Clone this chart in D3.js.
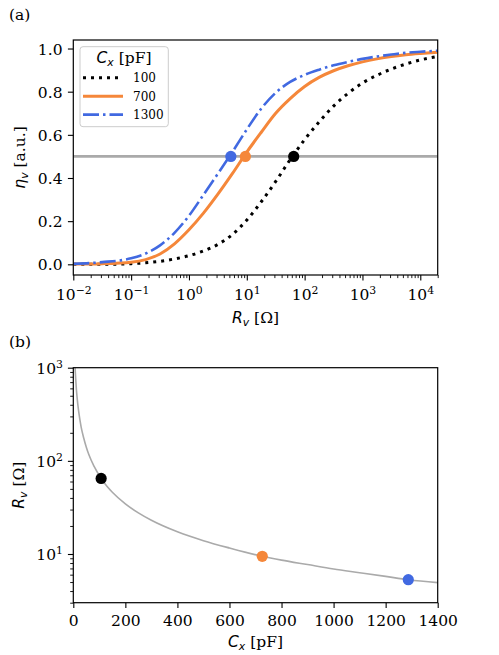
<!DOCTYPE html>
<html><head><meta charset="utf-8">
<script src="https://cdn.jsdelivr.net/npm/d3@7"></script>
<style>body{margin:0;background:#fff}</style>
</head><body><svg id="c" width="499" height="655"></svg>
<script>
// ---------- data ----------
const rvGrid = [0.01, 0.0316, 0.1, 0.178, 0.316, 0.562, 1, 1.78, 3.16, 5.62, 10, 17.8, 31.6, 56.2, 100, 178, 316, 562, 1000, 1778, 3162, 5623, 10000, 20000];
const eta100  = [0.000, 0.000, 0.003, 0.007, 0.014, 0.025, 0.040, 0.062, 0.092, 0.138, 0.205, 0.29, 0.384, 0.485, 0.578, 0.660, 0.733, 0.792, 0.840, 0.876, 0.905, 0.928, 0.947, 0.963];
const eta700  = [0.001, 0.003, 0.010, 0.022, 0.048, 0.095, 0.160, 0.237, 0.325, 0.420, 0.520, 0.612, 0.700, 0.768, 0.824, 0.866, 0.897, 0.920, 0.938, 0.952, 0.963, 0.971, 0.977, 0.983];
const eta1300 = [0.002, 0.010, 0.028, 0.050, 0.088, 0.146, 0.225, 0.322, 0.420, 0.520, 0.625, 0.722, 0.795, 0.845, 0.878, 0.902, 0.922, 0.938, 0.952, 0.963, 0.972, 0.980, 0.985, 0.990];
const capLabels = ["100", "700", "1300"];
const cxMeasured = [107, 726, 1287];
const rvHalf = [64.7, 9.45, 5.3];
const etaHalf = 0.5;
const cxCurve = [6, 7, 8, 10, 12, 15, 20, 25, 30, 40, 50, 60, 80, 107, 130, 150, 200, 250, 300, 400, 500, 600, 726, 800, 900, 1000, 1100, 1200, 1287, 1400];
const rvCurve = [1150, 990, 870, 700, 580, 465, 350, 280, 232, 176, 140, 116, 87, 64.7, 53, 46, 34.5, 27.6, 23, 17.3, 13.9, 11.6, 9.45, 8.6, 7.7, 6.9, 6.3, 5.75, 5.3, 4.93];
const xTickExpA = [-2, -1, 0, 1, 2, 3, 4];
const yTicksA = [0, 0.2, 0.4, 0.6, 0.8, 1.0];
const xTicksB = [0, 200, 400, 600, 800, 1000, 1200, 1400];
const yTickExpB = [1, 2, 3];

// ---------- styles ----------
const colors = ["#000000", "#f5873a", "#4169e1"];
const dashes = ["3,5", null, "16,4,2.5,4"];
const widths = [3, 3, 2.6];
const serif = "DejaVu Serif";
const sans = "DejaVu Sans";
const FS = 15.5;

const svg = d3.select("#c");
const A = {l: 73.3, r: 437.7, t: 40, b: 275};
const B = {l: 73.3, r: 437.7, t: 367.7, b: 602.7};

const xA = d3.scaleLog().domain([1e-2, 2e4]).range([A.l, A.r]);
const yA = d3.scaleLinear().domain([-0.0495, 1.0395]).range([A.b, A.t]);
const xB = d3.scaleLinear().domain([0, 1400]).range([B.l, B.r]);
const yB = d3.scaleLog().domain([3.0, 1000]).range([B.b, B.t]);

const defs = svg.append("defs");
defs.append("clipPath").attr("id", "clipA").append("rect")
  .attr("x", A.l).attr("y", A.t).attr("width", A.r - A.l).attr("height", A.b - A.t);
defs.append("clipPath").attr("id", "clipB").append("rect")
  .attr("x", B.l).attr("y", B.t).attr("width", B.r - B.l).attr("height", B.b - B.t);

function minorLog(lo, hi) {
  const out = [];
  for (let e = -3; e <= 5; e++) for (let m = 2; m <= 9; m++) {
    const v = m * Math.pow(10, e);
    if (v >= lo * 0.999 && v <= hi * 1.001) out.push(v);
  }
  return out;
}
function sup(textSel, base, exp, shift) {
  textSel.text(null);
  textSel.append("tspan").text(base);
  textSel.append("tspan").attr("font-size", "70%").attr("dy", shift).text(exp);
}
function styleAxis(g) {
  g.select(".domain").remove();
  g.selectAll(".tick line").attr("stroke", "#000").attr("stroke-width", 1.1);
  g.selectAll("text").attr("font-family", serif).attr("font-size", FS).attr("fill", "#000");
}

// ---------- panel A ----------
const gxA = svg.append("g").attr("transform", `translate(0,${A.b})`)
  .call(d3.axisBottom(xA).tickValues(xTickExpA.map(e => Math.pow(10, e))).tickSize(5.4).tickFormat(""));
styleAxis(gxA);
gxA.selectAll(".tick text").remove();
gxA.selectAll(".tick").append("text").each(function(d, i) {
  const t = d3.select(this).attr("y", 24.5).attr("text-anchor", "middle").attr("fill", "#000")
    .attr("font-family", serif).attr("font-size", FS);
  const e = xTickExpA[i];
  sup(t, "10", e < 0 ? "−" + Math.abs(e) : String(e), -6);
});
const gxAm = svg.append("g").attr("transform", `translate(0,${A.b})`)
  .call(d3.axisBottom(xA).tickValues(minorLog(1e-2, 2e4)).tickSize(3.1).tickFormat(""));
styleAxis(gxAm);
gxAm.selectAll(".tick line").attr("stroke-width", 0.9);

const gyA = svg.append("g").attr("transform", `translate(${A.l},0)`)
  .call(d3.axisLeft(yA).tickValues(yTicksA).tickSize(5.4).tickFormat(d3.format(".1f")));
styleAxis(gyA);
gyA.selectAll("text").attr("x", -10.8).attr("dy", null).attr("y", 5.5);

svg.append("line").attr("x1", A.l).attr("x2", A.r)
  .attr("y1", yA(etaHalf)).attr("y2", yA(etaHalf))
  .attr("stroke", "#aaaaaa").attr("stroke-width", 2.6);

const seriesA = [eta100, eta700, eta1300];
const lineA = d3.line().x((d, i) => xA(rvGrid[i])).y(d => yA(d)).curve(d3.curveMonotoneX);
const gCurvesA = svg.append("g").attr("clip-path", "url(#clipA)");
seriesA.forEach((s, k) => {
  gCurvesA.append("path").attr("d", lineA(s)).attr("fill", "none")
    .attr("stroke", colors[k]).attr("stroke-width", widths[k])
    .attr("stroke-dasharray", dashes[k]);
});
rvHalf.forEach((r, k) => {
  svg.append("circle").attr("cx", xA(r)).attr("cy", yA(etaHalf)).attr("r", 5.6).attr("fill", colors[k]);
});

svg.append("rect").attr("x", A.l).attr("y", A.t).attr("width", A.r - A.l).attr("height", A.b - A.t)
  .attr("fill", "none").attr("stroke", "#000").attr("stroke-width", 1.2);

// legend
const lg = svg.append("g");
lg.append("rect").attr("x", 80).attr("y", 46.7).attr("width", 88.3).attr("height", 80)
  .attr("rx", 3).attr("fill", "#fff").attr("fill-opacity", 0.8).attr("stroke", "#cccccc").attr("stroke-width", 1);
const lt = lg.append("text").attr("x", 124).attr("y", 63).attr("text-anchor", "middle")
  .attr("font-family", serif).attr("font-size", FS);
lt.append("tspan").attr("font-family", sans).attr("font-style", "italic").text("C");
lt.append("tspan").attr("font-family", sans).attr("font-style", "italic").attr("font-size", "70%").attr("dy", 3.4).text("x");
lt.append("tspan").attr("dy", -3.4).text(" [pF]");
const legY = [77.8, 96.2, 114.6];
capLabels.forEach((lab, k) => {
  lg.append("line").attr("x1", 83).attr("x2", 123).attr("y1", legY[k]).attr("y2", legY[k])
    .attr("stroke", colors[k]).attr("stroke-width", widths[k]).attr("stroke-dasharray", dashes[k]);
  lg.append("text").attr("x", 133).attr("y", legY[k] + 4.4).attr("font-family", serif)
    .attr("font-size", 12).text(lab);
});

const xlA = svg.append("text").attr("x", (A.l + A.r) / 2).attr("y", 323).attr("text-anchor", "middle")
  .attr("font-family", serif).attr("font-size", FS);
xlA.append("tspan").attr("font-family", sans).attr("font-style", "italic").text("R");
xlA.append("tspan").attr("font-family", sans).attr("font-style", "italic").attr("font-size", "70%").attr("dy", 3.4).text("v");
xlA.append("tspan").attr("dy", -3.4).text(" [Ω]");

const ylA = svg.append("text").attr("transform", `translate(25,${(A.t + A.b) / 2}) rotate(-90)`)
  .attr("text-anchor", "middle").attr("font-family", serif).attr("font-size", FS);
ylA.append("tspan").attr("font-family", sans).attr("font-style", "italic").text("η");
ylA.append("tspan").attr("font-family", sans).attr("font-style", "italic").attr("font-size", "70%").attr("dy", 3.4).text("v");
ylA.append("tspan").attr("dy", -3.4).text(" [a.u.]");

svg.append("text").attr("x", 9).attr("y", 20).attr("font-family", serif).attr("font-size", FS).text("(a)");
svg.append("text").attr("x", 9).attr("y", 347).attr("font-family", serif).attr("font-size", FS).text("(b)");

// ---------- panel B ----------
const gxB = svg.append("g").attr("transform", `translate(0,${B.b})`)
  .call(d3.axisBottom(xB).tickValues(xTicksB).tickSize(5.4).tickFormat(d3.format("d")));
styleAxis(gxB);
gxB.selectAll("text").attr("dy", null).attr("y", 23.5);

const gyB = svg.append("g").attr("transform", `translate(${B.l},0)`)
  .call(d3.axisLeft(yB).tickValues(yTickExpB.map(e => Math.pow(10, e))).tickSize(5.4).tickFormat(""));
styleAxis(gyB);
gyB.selectAll(".tick text").remove();
gyB.selectAll(".tick").append("text").each(function(d, i) {
  const t = d3.select(this).attr("x", -10.3).attr("y", 6).attr("text-anchor", "end").attr("fill", "#000")
    .attr("font-family", serif).attr("font-size", FS);
  sup(t, "10", String(yTickExpB[i]), -6);
});
const gyBm = svg.append("g").attr("transform", `translate(${B.l},0)`)
  .call(d3.axisLeft(yB).tickValues(minorLog(3.0, 1000)).tickSize(3.1).tickFormat(""));
styleAxis(gyBm);
gyBm.selectAll(".tick line").attr("stroke-width", 0.9);

const lineB = d3.line().x((d, i) => xB(cxCurve[i])).y(d => yB(d)).curve(d3.curveMonotoneX);
svg.append("g").attr("clip-path", "url(#clipB)").append("path").attr("d", lineB(rvCurve))
  .attr("fill", "none").attr("stroke", "#aaaaaa").attr("stroke-width", 1.6);
cxMeasured.forEach((c, k) => {
  svg.append("circle").attr("cx", xB(c)).attr("cy", yB(rvHalf[k])).attr("r", 5.6).attr("fill", colors[k]);
});
svg.append("rect").attr("x", B.l).attr("y", B.t).attr("width", B.r - B.l).attr("height", B.b - B.t)
  .attr("fill", "none").attr("stroke", "#000").attr("stroke-width", 1.2);

const xlB = svg.append("text").attr("x", (B.l + B.r) / 2).attr("y", 647).attr("text-anchor", "middle")
  .attr("font-family", serif).attr("font-size", FS);
xlB.append("tspan").attr("font-family", sans).attr("font-style", "italic").text("C");
xlB.append("tspan").attr("font-family", sans).attr("font-style", "italic").attr("font-size", "70%").attr("dy", 3.4).text("x");
xlB.append("tspan").attr("dy", -3.4).text(" [pF]");

const ylB = svg.append("text").attr("transform", `translate(24,${(B.t + B.b) / 2}) rotate(-90)`)
  .attr("text-anchor", "middle").attr("font-family", serif).attr("font-size", FS);
ylB.append("tspan").attr("font-family", sans).attr("font-style", "italic").text("R");
ylB.append("tspan").attr("font-family", sans).attr("font-style", "italic").attr("font-size", "70%").attr("dy", 3.4).text("v");
ylB.append("tspan").attr("dy", -3.4).text(" [Ω]");
</script>
</body></html>
